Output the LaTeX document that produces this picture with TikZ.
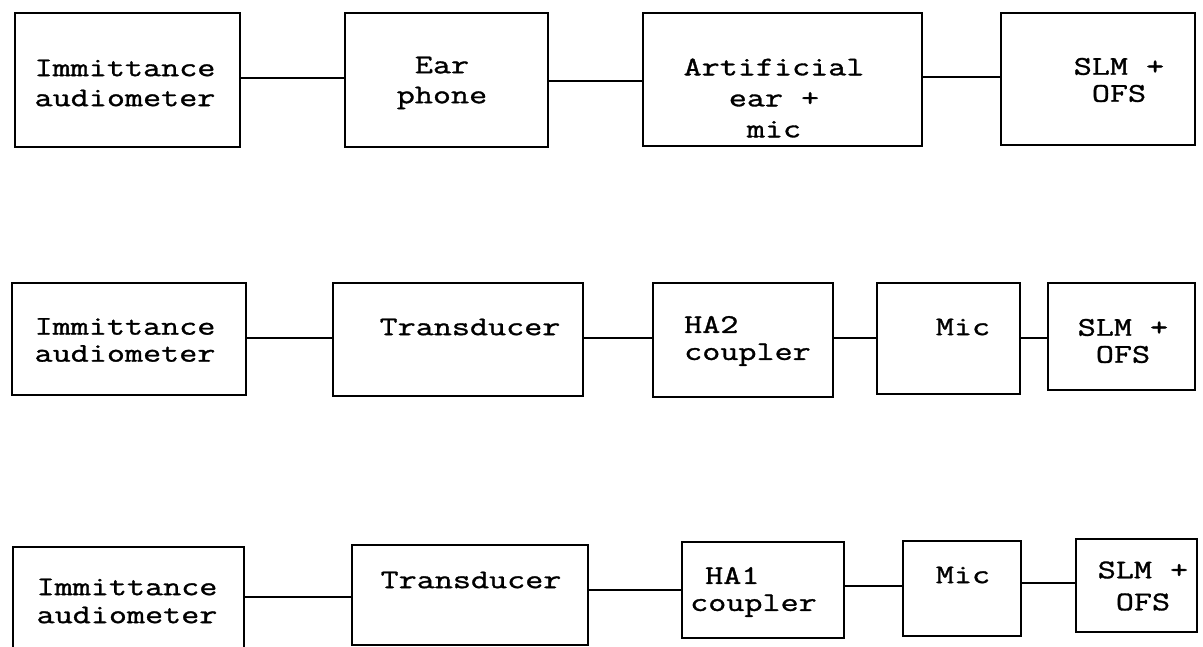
\documentclass[tikz,border=0pt]{standalone}
\usepackage{fontspec}
\setmainfont{Latin Modern Mono}[FakeStretch=1.3,FakeBold=1.2]
\newcommand\blk[5]{\node[blk, minimum width={#4-#2}, minimum height={#5-#3}] (#1) at ({(#2+#4)/2},{(#3+#5)/2}) {};}
\begin{document}
\begin{tikzpicture}[x=1pt,y=-1pt,
  blk/.style={draw, line width=2.8pt, inner sep=0pt, outer sep=0pt},
  lbl/.style={font=\fontsize{27}{#1}\selectfont, inner sep=0pt, align=center},
  lbl/.default=29,
  wire/.style={line width=2.8pt}]
\useasboundingbox (0,0) rectangle (1203,647);
\clip (0,0) rectangle (1203,647);
% ---------- row 1
\blk{a1}{15}{13}{240}{147}
\blk{a2}{345}{13}{548}{147}
\blk{a3}{643}{13}{922}{146}
\blk{a4}{1001}{13}{1195}{145}
\node[lbl=30] (ta1) at (125,83) {Immittance\\audiometer};
\node[lbl=30] (ta2) at (442,83) {Ear\\phone};
\node[lbl=31] (ta3) at (774,98) {Artificial\\ear +\\mic};
\node[lbl=27] (ta4) at (1119,80) {SLM +\\OFS};
\coordinate (ya1) at (0,78);
\coordinate (ya2) at (0,81);
\coordinate (ya3) at (0,77);
\draw[wire] (a1.east |- ya1) -- (a2.west |- ya1);
\draw[wire] (a2.east |- ya2) -- (a3.west |- ya2);
\draw[wire] (a3.east |- ya3) -- (a4.west |- ya3);
% ---------- row 2
\blk{b1}{12}{283}{246}{395}
\blk{b2}{333}{283}{583}{396}
\blk{b3}{653}{283}{833}{397}
\blk{b4}{877}{283}{1020}{394}
\blk{b5}{1048}{283}{1195}{390}
\node[lbl=27] (tb1) at (125,340) {Immittance\\audiometer};
\node[lbl] (tb2) at (470,327) {Transducer};
\node[lbl=27, align=left, anchor=west] (tb3) at (684,341) {HA2\\coupler};
\node[lbl] (tb4) at (963,327) {Mic};
\node[lbl=27] (tb5) at (1123,341) {SLM +\\OFS};
\coordinate (yb) at (0,338);
\draw[wire] (b1.east |- yb) -- (b2.west |- yb);
\draw[wire] (b2.east |- yb) -- (b3.west |- yb);
\draw[wire] (b3.east |- yb) -- (b4.west |- yb);
\draw[wire] (b4.east |- yb) -- (b5.west |- yb);
% ---------- row 3
\blk{c1}{13}{547}{244}{680}
\blk{c2}{352}{545}{588}{645}
\blk{c3}{682}{542}{844}{638}
\blk{c4}{903}{541}{1021}{636}
\blk{c5}{1076}{539}{1197}{632}
\node[lbl=28] (tc1) at (127,601) {Immittance\\audiometer};
\node[lbl] (tc2) at (471,580) {Transducer};
\node[lbl=27, align=left, anchor=west] (tc3) at (690,592) {\hspace*{15pt}HA1\\coupler};
\node[lbl] (tc4) at (963,575) {Mic};
\node[lbl=32] (tc5) at (1143,586) {SLM +\\OFS};
\coordinate (yc1) at (0,597);
\coordinate (yc2) at (0,590);
\coordinate (yc3) at (0,586);
\coordinate (yc4) at (0,583);
\draw[wire] (c1.east |- yc1) -- (c2.west |- yc1);
\draw[wire] (c2.east |- yc2) -- (c3.west |- yc2);
\draw[wire] (c3.east |- yc3) -- (c4.west |- yc3);
\draw[wire] (c4.east |- yc4) -- (c5.west |- yc4);
\end{tikzpicture}
\end{document}
